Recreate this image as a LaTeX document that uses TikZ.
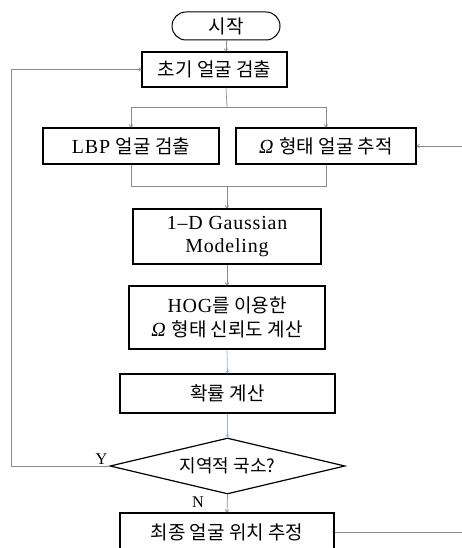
\documentclass[tikz,border=0pt]{standalone}
\usepackage{fontspec}
\setmainfont{Liberation Serif}[Scale=1.05,LetterSpace=4]
\newfontfamily\kr{Noto Sans CJK KR}
\usepackage{xcolor}
\usetikzlibrary{arrows.meta,positioning,calc,shapes.geometric}
\definecolor{linegray}{HTML}{8C8C8C}
\definecolor{lineblue}{HTML}{95B3D7}

\begin{document}
\begin{tikzpicture}[
  x=1pt,y=-1pt,
  box/.style={draw=black,line width=1.2pt,minimum height=36pt,align=center,inner sep=2pt,font=\fontsize{19}{23.5}\selectfont},
  term/.style={box,rounded corners=14pt,line width=1pt},
  decide/.style={diamond,draw=black,line width=1.2pt,aspect=4.2,inner sep=0pt,minimum width=235pt,minimum height=56pt,font=\fontsize{18}{21}\selectfont},
  arr/.style={-{To[length=3pt,width=4pt]},draw=linegray,line width=0.7pt},
  arrb/.style={arr,draw=lineblue},
  conn/.style={draw=linegray,line width=0.7pt},
  lbl/.style={font=\fontsize{15.5}{18}\selectfont,inner sep=1pt}
]
\useasboundingbox (0,0) rectangle (462,548);
\clip (0,0) rectangle (462,548);
% flow boxes
\node[term,minimum width=108pt,minimum height=28pt] (start) at (226,26) {\kr 시작};
\node[box,minimum width=145pt,minimum height=35pt] (init) at (214.5,69.5) {\kr 초기 얼굴 검출};
\node[box,minimum width=176pt] (lbp) at (131,146) {LBP {\kr 얼굴 검출}};
\node[box,minimum width=180pt] (omega) at (326,146) {{\itshape Ω} {\kr 형태 얼굴 추적}};
\node[box,minimum width=188pt,minimum height=55pt] (gauss) at (227,236.5) {1--D Gaussian\\Modeling};
\node[box,minimum width=196pt,minimum height=63pt] (hog) at (227,317.5) {HOG{\kr 를 이용한}\\{\itshape Ω} {\kr 형태 신뢰도 계산}};
\node[box,minimum width=215pt,minimum height=39pt] (prob) at (227.5,393.5) {\kr 확률 계산};
\node[decide] (dec) at (227.5,466) {\kr 지역적 국소?};
\node[box,minimum width=214pt,minimum height=39pt] (final) at (227,532.5) {\kr 최종 얼굴 위치 추정};
% branch points
\coordinate (split) at (227,107);
\coordinate (join) at (227,186);
\coordinate (back) at (11,466);
\coordinate (inR) at (462,146);
\coordinate (outR) at (462,532.5);
% connectors
\draw[arr] (start.south) -- (start.south |- init.north);
\draw[conn] (start.south |- init.south) -- (split);
\draw[conn] (lbp.north |- split) -- (omega.north |- split);
\draw[arr] (lbp.north |- split) -- (lbp.north);
\draw[arr] (omega.north |- split) -- (omega.north);
\draw[conn] (lbp.south) -- (lbp.south |- join) -- (omega.south |- join) -- (omega.south);
\draw[arr] (join) -- (gauss.north);
\draw[arr] (gauss.south) -- (hog.north);
\draw[arrb] (hog.south) -- (prob.north);
\draw[arrb] (prob.south) -- (dec.north);
\draw[arr] (dec.south) -- (final.north);
\draw[arr] (dec.west) -- node[lbl,above,pos=0.08] {Y} (back) |- (init.west);
\draw[arr] (inR) -- (omega.east);
\draw[conn] (final.east) -- (outR);
\node[lbl] (nlbl) at (198,502) {N};
\end{tikzpicture}
\end{document}
